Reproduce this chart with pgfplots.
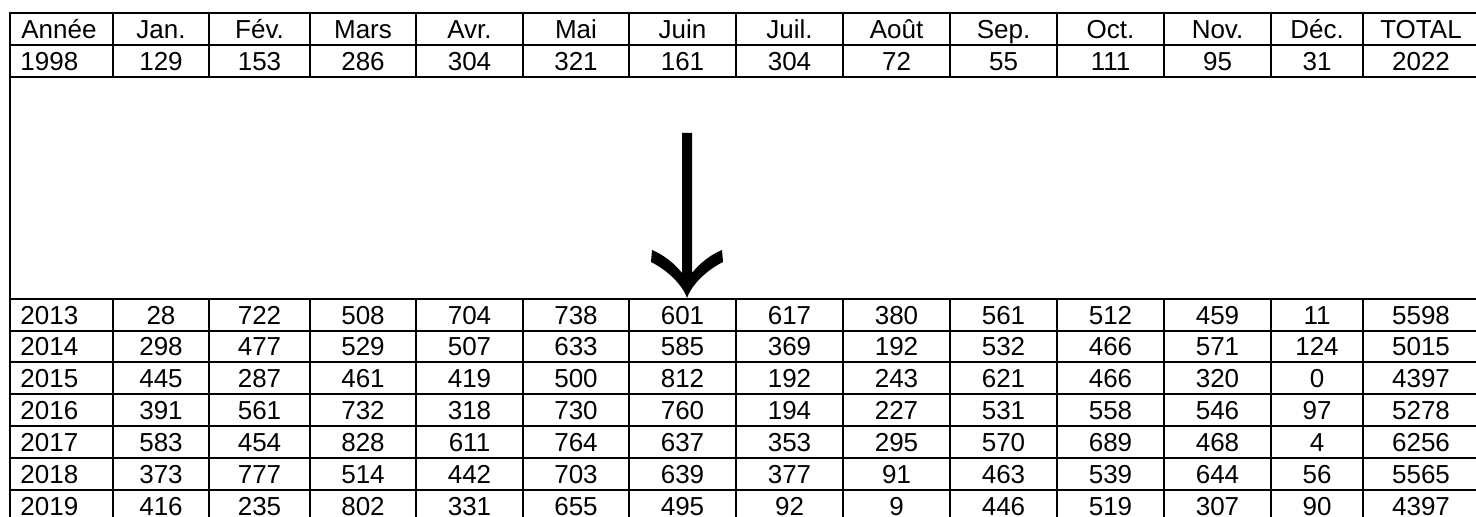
\documentclass[border=0pt]{standalone}
\usepackage{pgfplots}
\usepackage{pgfplotstable}
\pgfplotsset{compat=1.18}
\usepackage{fontspec}
\setmainfont{Liberation Sans}

\pgfplotstableread{
yc year jan fev mar avr mai jun jul aou sep oct nov dec tot
61 1998 129 153 286 304 321 161 304 72 55 111 95 31 2022
315 2013 28 722 508 704 738 601 617 380 561 512 459 11 5598
346.5 2014 298 477 529 507 633 585 369 192 532 466 571 124 5015
378 2015 445 287 461 419 500 812 192 243 621 466 320 0 4397
410 2016 391 561 732 318 730 760 194 227 531 558 546 97 5278
442 2017 583 454 828 611 764 637 353 295 570 689 468 4 6256
474 2018 373 777 514 442 703 639 377 91 463 539 644 56 5565
506 2019 416 235 802 331 655 495 92 9 446 519 307 90 4397
}\data

\begin{document}
\begin{tikzpicture}
\begin{axis}[
  scale only axis, width=738pt, height=258.5pt,
  xmin=0, xmax=1476, ymin=0, ymax=517, y dir=reverse,
  axis lines=none, ticks=none, clip=true,
  point meta=explicit symbolic,
  nodes near coords={\pgfplotspointmeta},
  nodes near coords align=center,
  every node near coord/.append style={font=\fontsize{13}{15}\selectfont, text=black, inner sep=0pt, text height=9.3pt, text depth=0pt},
  every axis plot post/.append style={only marks, mark=text, text mark={}, mark options={draw=none, fill=none}},
]
% grid lines
\pgfplotsinvokeforeach{13,45,77,299,331,362,394,426,458,490}{
  \draw[line width=1.2pt] (9,#1) -- (1485,#1);
}
\draw[line width=1.2pt] (10,12.4) -- (10,530);
\pgfplotsinvokeforeach{113,209,310,416,523,629,736,843,950,1057,1164,1271,1363,1479}{
  \draw[line width=1.2pt] (#1,13) -- (#1,77);
  \draw[line width=1.2pt] (#1,299) -- (#1,530);
}
\draw[line width=1.2pt] (1479,77) -- (1479,299);
% arrow
\fill[black] (682,133) -- (682,273)
  .. controls (675,264) and (664,255) .. (652,250) -- (651,262)
  .. controls (667,270) and (682,284) .. (687,298)
  .. controls (692,284) and (707,270) .. (723,262) -- (722,250)
  .. controls (710,255) and (699,264) .. (692,273) -- (692,133) -- cycle;

% header
\addplot[nodes near coords align=west] coordinates {(21,29) [Année]};
\addplot coordinates {
(161,29) [Jan.] (259.5,29) [Fév.] (363,29) [Mars] (469.5,29) [Avr.]
(576,29) [Mai] (682.5,29) [Juin] (789.5,29) [Juil.] (896.5,29) [Août]
(1003.5,29) [Sep.] (1110.5,29) [Oct.] (1217.5,29) [Nov.] (1317,29) [Déc.]
(1421,29) [TOTAL]};
% body
\addplot[nodes near coords align=west] table[x expr=20, y=yc, meta=year] {\data};
\addplot table[x expr=161, y=yc, meta=jan] {\data};
\addplot table[x expr=259.5, y=yc, meta=fev] {\data};
\addplot table[x expr=363, y=yc, meta=mar] {\data};
\addplot table[x expr=469.5, y=yc, meta=avr] {\data};
\addplot table[x expr=576, y=yc, meta=mai] {\data};
\addplot table[x expr=682.5, y=yc, meta=jun] {\data};
\addplot table[x expr=789.5, y=yc, meta=jul] {\data};
\addplot table[x expr=896.5, y=yc, meta=aou] {\data};
\addplot table[x expr=1003.5, y=yc, meta=sep] {\data};
\addplot table[x expr=1110.5, y=yc, meta=oct] {\data};
\addplot table[x expr=1217.5, y=yc, meta=nov] {\data};
\addplot table[x expr=1317, y=yc, meta=dec] {\data};
\addplot table[x expr=1421, y=yc, meta=tot] {\data};
\end{axis}
\pgfresetboundingbox
\path (current axis.south west) rectangle (current axis.north east);
\end{tikzpicture}
\end{document}
